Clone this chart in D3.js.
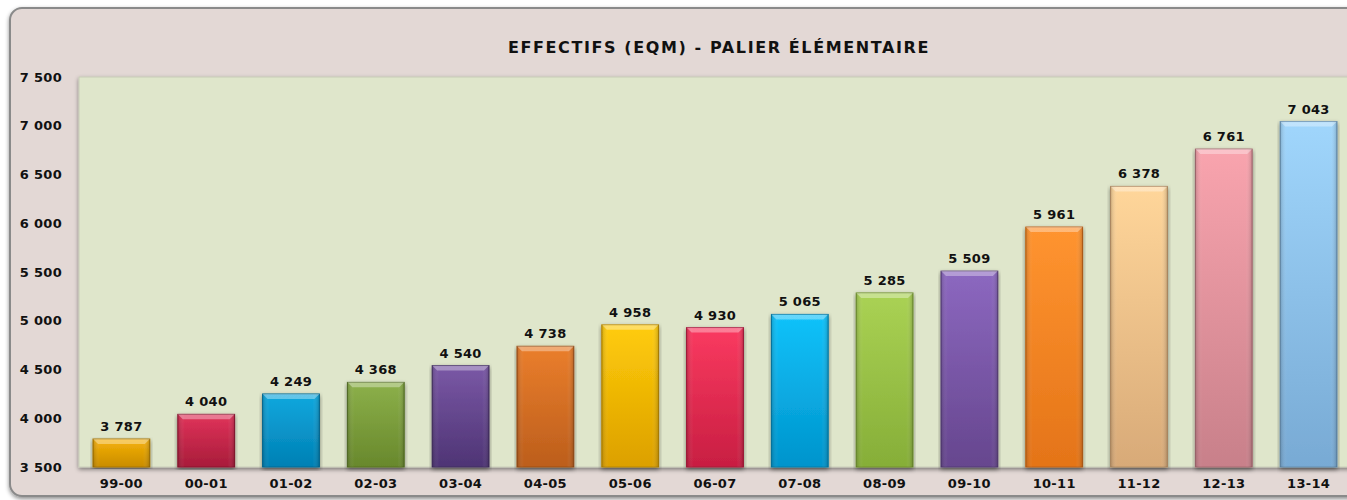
<!DOCTYPE html>
<html>
<head>
<meta charset="utf-8">
<script src="https://cdn.jsdelivr.net/npm/d3@7"></script>
<style>
  body { margin: 0; background: #fff; }
  text { font-family: "DejaVu Sans", Verdana, sans-serif; font-weight: bold; fill: #111; }
</style>
</head>
<body>
<div id="chart"></div>
<script>
// data
var annees = ["99-00", "00-01", "01-02", "02-03", "03-04", "04-05", "05-06", "06-07", "07-08", "08-09", "09-10", "10-11", "11-12", "12-13", "13-14"];
var effectifs = [3787, 4040, 4249, 4368, 4540, 4738, 4958, 4930, 5065, 5285, 5509, 5961, 6378, 6761, 7043];
var yTicks = [3500, 4000, 4500, 5000, 5500, 6000, 6500, 7000, 7500];
var titre = "EFFECTIFS (EQM) - PALIER ÉLÉMENTAIRE";

// couleurs (haut, bas)
var couleurs = [
  ["#f6b20a", "#c98c00"], ["#e0335a", "#a81c3a"], ["#12a8de", "#0080b4"], ["#8cb04a", "#68882c"],
  ["#7a58a6", "#4e3474"], ["#ea7e2c", "#bc5e1c"], ["#ffcc0a", "#dca000"], ["#fa3a60", "#c81e42"],
  ["#12c2fa", "#0094cc"], ["#aad254", "#86ae38"], ["#8c68c0", "#66468e"], ["#ff9430", "#e47418"],
  ["#ffd69a", "#d8aa78"], ["#f9a4ae", "#c8808a"], ["#a0d6fc", "#78aad4"]
];

var W = 1347, H = 500;
var margin = { top: 77, right: -4, bottom: 33, left: 79 };
var width = W - margin.left - margin.right,
    height = H - margin.top - margin.bottom;

var fmt = function (d) { return d3.format(",")(d).replace(",", " "); };

var svg = d3.select("#chart").append("svg")
  .attr("width", W).attr("height", H);

var defs = svg.append("defs");
var ombre = defs.append("filter").attr("id", "ombre")
  .attr("x", "-5%").attr("y", "-5%").attr("width", "110%").attr("height", "110%");
ombre.append("feDropShadow").attr("dx", 0).attr("dy", 2).attr("stdDeviation", 2)
  .attr("flood-color", "#000").attr("flood-opacity", 0.45);

couleurs.forEach(function (c, i) {
  var gr = defs.append("linearGradient").attr("id", "grad" + i)
    .attr("x1", 0).attr("y1", 0).attr("x2", 0).attr("y2", 1);
  gr.append("stop").attr("offset", "0%").attr("stop-color", c[0]);
  gr.append("stop").attr("offset", "100%").attr("stop-color", c[1]);
});
var reflet = defs.append("linearGradient").attr("id", "reflet")
  .attr("x1", 0).attr("y1", 0).attr("x2", 1).attr("y2", 0);
reflet.append("stop").attr("offset", "0%").attr("stop-color", "#000").attr("stop-opacity", 0.18);
reflet.append("stop").attr("offset", "12%").attr("stop-color", "#fff").attr("stop-opacity", 0.0);
reflet.append("stop").attr("offset", "88%").attr("stop-color", "#fff").attr("stop-opacity", 0.0);
reflet.append("stop").attr("offset", "100%").attr("stop-color", "#000").attr("stop-opacity", 0.2);

// cadre exterieur
svg.append("rect")
  .attr("x", 10).attr("y", 8).attr("width", W + 20).attr("height", 488)
  .attr("rx", 12).attr("fill", "#e3d8d5")
  .attr("stroke", "#8a8a8a").attr("stroke-width", 2)
  .attr("filter", "url(#ombre)");

svg.append("text")
  .attr("x", 719).attr("y", 53)
  .attr("text-anchor", "middle")
  .style("font-size", "16px")
  .style("letter-spacing", "1.6px")
  .text(titre);

var g = svg.append("g").attr("transform", "translate(" + margin.left + "," + margin.top + ")");

var x = d3.scaleBand().domain(annees).range([0, width]).paddingInner(0.33).paddingOuter(0.165);
var y = d3.scaleLinear().domain([3500, 7500]).range([height, 0]);

// zone de tracé
g.append("rect")
  .attr("x", 0).attr("y", 0).attr("width", width + 10).attr("height", height)
  .attr("fill", "#dfe6cb")
  .attr("stroke", "#c8ccb8").attr("stroke-width", 1)
  .attr("filter", "url(#ombre)");

// axes
var axeY = g.append("g")
  .call(d3.axisLeft(y).tickValues(yTicks).tickSize(0).tickPadding(17).tickFormat(fmt));
axeY.select(".domain").remove();
axeY.selectAll("text").style("font-size", "13px").style("letter-spacing", "0.3px").attr("fill", "#111");

var axeX = g.append("g").attr("transform", "translate(0," + height + ")")
  .call(d3.axisBottom(x).tickSize(0).tickPadding(12));
axeX.select(".domain").remove();
axeX.selectAll("text").style("font-size", "13px").style("letter-spacing", "0.3px").attr("fill", "#111");

// barres
var barres = g.selectAll(".barre").data(effectifs).enter().append("g").attr("class", "barre");

barres.append("rect")
  .attr("x", function (d, i) { return x(annees[i]); })
  .attr("y", function (d) { return y(d); })
  .attr("width", x.bandwidth())
  .attr("height", function (d) { return height - y(d); })
  .attr("fill", function (d, i) { return "url(#grad" + i + ")"; })
  .attr("stroke", function (d, i) { return d3.color(couleurs[i][1]).darker(0.5); })
  .attr("stroke-width", 1)
  .attr("filter", "url(#ombre)");

barres.append("rect")
  .attr("x", function (d, i) { return x(annees[i]); })
  .attr("y", function (d) { return y(d); })
  .attr("width", x.bandwidth())
  .attr("height", function (d) { return height - y(d); })
  .attr("fill", "url(#reflet)");

// biseau du haut
barres.append("path")
  .attr("d", function (d, i) {
    var x0 = x(annees[i]), x1 = x0 + x.bandwidth(), y0 = y(d);
    return "M" + x0 + "," + y0 + "L" + x1 + "," + y0 + "L" + (x1 - 5) + "," + (y0 + 5) + "L" + (x0 + 5) + "," + (y0 + 5) + "Z";
  })
  .attr("fill", "#fff").attr("fill-opacity", 0.35);

barres.append("text")
  .attr("x", function (d, i) { return x(annees[i]) + x.bandwidth() / 2; })
  .attr("y", function (d) { return y(d) - 8; })
  .attr("text-anchor", "middle")
  .style("font-size", "13px")
  .style("letter-spacing", "0.3px")
  .text(fmt);
</script>
</body>
</html>
